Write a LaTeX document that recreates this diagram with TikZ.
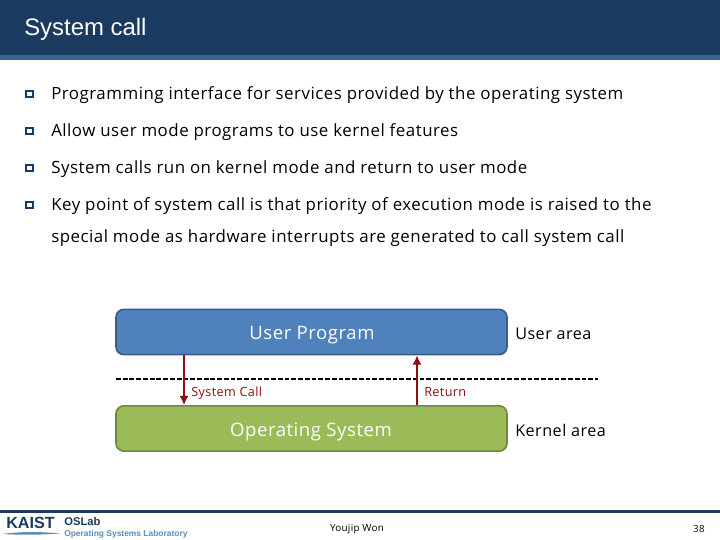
\documentclass[tikz,border=0pt]{standalone}
\usepackage{fontspec}
\setmainfont[LetterSpace=3]{Open Sans}
\newfontfamily\titlefont{Liberation Sans}
\usetikzlibrary{positioning,arrows.meta}
\definecolor{navy}{HTML}{1A3A60}
\definecolor{band}{HTML}{3F6396}
\definecolor{userblue}{HTML}{4F81BD}
\definecolor{userline}{HTML}{385D8A}
\definecolor{osgreen}{HTML}{9BBB59}
\definecolor{osline}{HTML}{71893F}
\definecolor{callred}{HTML}{8B0F14}
\definecolor{logoblue}{HTML}{5B8DB8}
\tikzset{
    bodytext/.style={anchor=west,inner sep=0pt,font=\fontsize{12}{14}\selectfont},
    areabox/.style={draw,rounded corners=5.5pt,line width=1.2pt,minimum width=278pt,minimum height=32.2pt},
    boxtext/.style={inner sep=0pt,text=white,font=\fontsize{13.2}{16}\selectfont},
    arealabel/.style={anchor=west,inner sep=0pt,font=\fontsize{11.5}{14}\selectfont},
    calltext/.style={anchor=west,inner sep=0pt,text=callred,font=\fontsize{9}{10}\selectfont},
    callarrow/.style={draw=callred,line width=1.2pt,-{Latex[length=6.5pt,width=6.5pt]}},
    bulletbox/.style={draw=navy,fill=white,line width=1.1pt,minimum width=5pt,minimum height=4.2pt,inner sep=0pt}
}
\begin{document}
\begin{tikzpicture}[x=0.25mm,y=-0.25mm]
    \useasboundingbox (0,0) rectangle (720,540);
    %% header
    \fill[navy] (0,0) rectangle (720,55);
    \fill[band] (0,55) rectangle (720,60);
    \node[anchor=west,inner sep=0pt,text=white,font=\titlefont\fontsize{17}{20}\selectfont] (title) at (24,29.5) {System call};
    %% bullets
    \foreach \ypos/\name in {94/a,131/b,168/c,205/d}
        \node[bulletbox] (bullet\name) at (29.5,\ypos) {};
    \node[bodytext] (linea) at (51,95) {Programming interface for services provided by the operating system};
    \node[bodytext] (lineb) at (51,132) {Allow user mode programs to use kernel features};
    \node[bodytext] (linec) at (51,169) {System calls run on kernel mode and return to user mode};
    \node[bodytext] (lined) at (51,206) {Key point of system call is that priority of execution mode is raised to the};
    \node[bodytext] (linee) at (51,238) {special mode as hardware interrupts are generated to call system call};
    %% boxes
    \node[areabox,fill=userblue,draw=userline] (user) at (311.5,332) {};
    \node[areabox,fill=osgreen,draw=osline] (os) at (311.5,428.5) {};
    \node[boxtext] (usertext) at (312,335) {User Program};
    \node[boxtext] (ostext) at (311,432) {Operating System};
    %% labels
    \node[arealabel] (userarea) at (515,334) {User area};
    \node[arealabel] (kernelarea) at (515,430) {Kernel area};
    %% boundary
    \coordinate (lineleft) at (116,379);
    \coordinate (lineright) at (598,379);
    \draw[line width=0.9pt,dash pattern=on 3.4pt off 1.4pt] (lineleft) -- (lineright);
    %% calls
    \coordinate (callx) at (184,380);
    \coordinate (retx) at (417,380);
    \draw[callarrow] (callx |- user.south) -- (callx |- os.north);
    \draw[callarrow] (retx |- os.north) -- (retx |- user.south);
    \node[calltext] (calllabel) at (191,393) {System Call};
    \node[calltext] (retlabel) at (424,392) {Return};
    %% footer
    \fill[navy] (0,510) rectangle (720,513);
    \node[anchor=west,inner sep=0pt,text=navy,font=\titlefont\bfseries\fontsize{11.5}{12}\selectfont] (kaist) at (6,523) {KAIST};
    \fill[logoblue] (2,534) .. controls (20,531.5) and (40,531.5) .. (60,533.5) .. controls (40,535) and (20,535) .. (2,534);
    \node[anchor=west,inner sep=0pt,text=navy,font=\titlefont\bfseries\fontsize{8}{8}\selectfont] (oslab) at (64,521.5) {OSLab};
    \node[anchor=west,inner sep=0pt,text=logoblue,font=\titlefont\bfseries\fontsize{6}{6}\selectfont] (oslabname) at (64,534) {Operating Systems Laboratory};
    \node[inner sep=0pt,font=\fontsize{7}{9}\selectfont] (author) at (357,529) {Youjip Won};
    \node[inner sep=0pt,font=\fontsize{7}{9}\selectfont] (page) at (699,529) {38};
\end{tikzpicture}
\end{document}
